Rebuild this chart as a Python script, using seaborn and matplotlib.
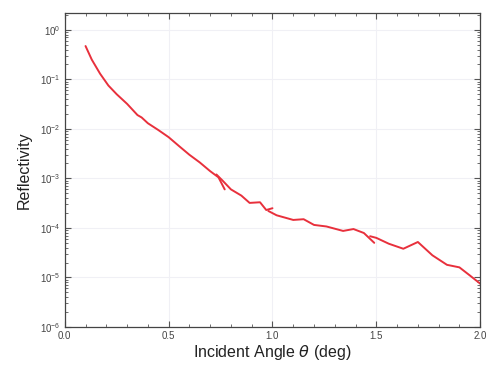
import pandas as pd
import seaborn as sns
import matplotlib
matplotlib.use('Agg')
import matplotlib.pyplot as plt
from matplotlib.ticker import LogLocator, MultipleLocator, NullFormatter, FixedLocator

# stitched scan segments (angle in deg, reflectivity)
seg1_x = [0.10, 0.13, 0.17, 0.21, 0.25, 0.30, 0.35, 0.37, 0.40, 0.45, 0.50, 0.55, 0.60, 0.65, 0.70, 0.74, 0.77]
seg1_y = [0.47, 0.25, 0.13, 0.075, 0.05, 0.032, 0.019, 0.017, 0.013, 0.0095, 0.0068, 0.0045, 0.003, 0.0021, 0.0014, 0.00105, 0.0006]
seg2_x = [0.73, 0.76, 0.80, 0.85, 0.89, 0.94, 0.97, 1.00]
seg2_y = [1.2e-3, 9e-4, 6e-4, 4.5e-4, 3.2e-4, 3.3e-4, 2.3e-4, 2.5e-4]
seg3_x = [0.98, 1.02, 1.10, 1.15, 1.20, 1.26, 1.34, 1.39, 1.44, 1.49]
seg3_y = [2.2e-4, 1.8e-4, 1.45e-4, 1.5e-4, 1.15e-4, 1.07e-4, 8.7e-5, 9.5e-5, 7.9e-5, 5e-5]
seg4_x = [1.47, 1.50, 1.56, 1.63, 1.70, 1.77, 1.84, 1.90, 1.95, 2.00]
seg4_y = [6.8e-5, 6.3e-5, 4.8e-5, 3.8e-5, 5.2e-5, 2.8e-5, 1.8e-5, 1.6e-5, 1.1e-5, 7.5e-6]

segments = [(seg1_x, seg1_y), (seg2_x, seg2_y), (seg3_x, seg3_y), (seg4_x, seg4_y)]
rows = []
for i, (xs, ys) in enumerate(segments):
    for x, y in zip(xs, ys):
        rows.append({'angle': x, 'refl': y, 'seg': i})
df = pd.DataFrame(rows)

sns.set_style('ticks')
plt.rcParams['font.family'] = ['Liberation Sans', 'DejaVu Sans']

fig = plt.figure(figsize=(4.87, 3.67), dpi=100)
ax = fig.add_axes([0.133, 0.109, 0.853, 0.856])

sns.lineplot(data=df, x='angle', y='refl', units='seg', estimator=None,
             color='#e8303c', linewidth=1.4, sort=False, ax=ax)

ax.set_yscale('log')
ax.set_xlim(0, 2.0)
ax.set_ylim(1e-6, 2.2)

ax.xaxis.set_major_locator(MultipleLocator(0.5))
ax.xaxis.set_minor_locator(MultipleLocator(0.1))
ax.yaxis.set_major_locator(FixedLocator([1e-6, 1e-5, 1e-4, 1e-3, 1e-2, 1e-1, 1e0]))
ax.yaxis.set_minor_locator(LogLocator(base=10, subs=[2, 3, 4, 5, 6, 7, 8, 9], numticks=100))
ax.yaxis.set_minor_formatter(NullFormatter())
ax.xaxis.set_major_formatter(matplotlib.ticker.FormatStrFormatter('%.1f'))

ax.tick_params(which='both', direction='in', top=True, right=True, color='#555555')
ax.tick_params(which='major', length=4, labelsize=7, labelcolor='#444444', pad=3)
ax.tick_params(which='minor', length=2)

ax.grid(True, which='major', axis='both', color='#f0f0f5', linewidth=0.8)
ax.set_facecolor('#ffffff')
for s in ax.spines.values():
    s.set_color('#444444')
    s.set_linewidth(0.9)

ax.set_xlabel(r'Incident Angle $\theta$ (deg)', fontsize=11.5, color='#222222', labelpad=1)
ax.set_ylabel('Reflectivity', fontsize=11.5, color='#222222', labelpad=6)

fig.savefig('out.png', dpi=100)
